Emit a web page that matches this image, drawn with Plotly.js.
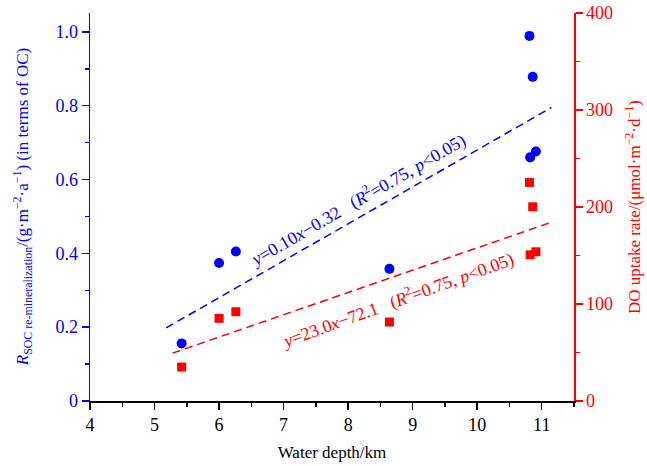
<!DOCTYPE html>
<html>
<head>
<meta charset="utf-8">
<script src="https://cdn.plot.ly/plotly-3.0.1.min.js"></script>
<style>html,body{margin:0;padding:0;background:#fff;}</style>
</head>
<body>
<div id="chart" style="width:647px;height:466px;"></div>
<script>
// Data
const depthKm = [5.42, 6.00, 6.26, 8.64, 10.81, 10.86, 10.82, 10.91];
const socRemin = [0.156, 0.374, 0.405, 0.358, 0.989, 0.878, 0.660, 0.676];
const doUptake = [35.0, 85.2, 92.0, 81.4, 225.3, 200.2, 150.7, 153.8];

const socFitX = [5.18, 11.15];
const socSlope = 0.10, socIntercept = -0.32;
const doFitX = [5.28, 11.15];
const doSlope = 23.0, doIntercept = -72.1;

const xTicks = [4, 5, 6, 7, 8, 9, 10, 11];
const leftTicks = [0, 0.2, 0.4, 0.6, 0.8, 1.0];
const leftTickText = ['0', '0.2', '0.4', '0.6', '0.8', '1.0'];
const rightTicks = [0, 100, 200, 300, 400];

const BLUE = '#0000FF', RED = '#FF0000';
const FONT = 'Liberation Serif, Times New Roman, serif';

const traces = [
  {x: socFitX, y: socFitX.map(v => socSlope * v + socIntercept), mode: 'lines',
   line: {color: BLUE, width: 1.5, dash: '8px,5px'}, xaxis: 'x', yaxis: 'y', hoverinfo: 'skip'},
  {x: doFitX, y: doFitX.map(v => doSlope * v + doIntercept), mode: 'lines',
   line: {color: RED, width: 1.5, dash: '8px,5px'}, xaxis: 'x', yaxis: 'y2', hoverinfo: 'skip'},
  {x: depthKm, y: socRemin, mode: 'markers', marker: {symbol: 'circle', size: 10, color: BLUE},
   xaxis: 'x', yaxis: 'y'},
  {x: depthKm, y: doUptake, mode: 'markers', marker: {symbol: 'square', size: 9, color: RED},
   xaxis: 'x', yaxis: 'y2'}
];

const layout = {
  width: 647, height: 466,
  margin: {l: 90, r: 73, t: 13, b: 65},
  paper_bgcolor: '#fff', plot_bgcolor: '#fff',
  showlegend: false,
  font: {family: FONT, size: 18, color: '#000'},
  xaxis: {
    range: [4, 11.5], tickmode: 'array', tickvals: xTicks,
    showgrid: false, zeroline: false, showline: true, linecolor: '#000', linewidth: 1.5,
    ticks: 'outside', ticklen: 7, tickwidth: 1.5, tickcolor: '#000',
    minor: {dtick: 0.5, tick0: 0, ticks: 'outside', ticklen: 4, tickwidth: 1.5, tickcolor: '#000', showgrid: false},
    tickfont: {family: FONT, size: 18, color: '#000'},
    title: {text: 'Water depth/km', font: {family: FONT, size: 17, color: '#000'}, standoff: 12}
  },
  xaxis2: {
    overlaying: 'x', side: 'top', anchor: 'y',
    range: [4, 11.5], tickmode: 'array', tickvals: xTicks, showticklabels: false,
    showgrid: false, zeroline: false, showline: true, linecolor: '#000', linewidth: 1.5,
    ticks: 'inside', ticklen: 7, tickwidth: 1.5, tickcolor: '#000',
    minor: {dtick: 0.5, tick0: 0, ticks: 'inside', ticklen: 4, tickwidth: 1.5, tickcolor: '#000', showgrid: false}
  },
  yaxis: {
    range: [0, 1.051], tickmode: 'array', tickvals: leftTicks, ticktext: leftTickText,
    showgrid: false, zeroline: false, showline: true, linecolor: BLUE, linewidth: 1.5,
    ticks: 'outside', ticklen: 7, tickwidth: 1.5, tickcolor: BLUE,
    minor: {tickvals: [0.1, 0.3, 0.5, 0.7, 0.9], ticks: 'outside', ticklen: 4, tickwidth: 1.5, tickcolor: BLUE, showgrid: false},
    tickfont: {family: FONT, size: 18, color: BLUE}
  },
  yaxis2: {
    overlaying: 'y', side: 'right', anchor: 'x',
    range: [0, 400], tickmode: 'array', tickvals: rightTicks,
    showgrid: false, zeroline: false, showline: true, linecolor: RED, linewidth: 1.5,
    ticks: 'outside', ticklen: 7, tickwidth: 1.5, tickcolor: RED,
    minor: {tickvals: [50, 150, 250, 350], ticks: 'outside', ticklen: 4, tickwidth: 1.5, tickcolor: RED, showgrid: false},
    tickfont: {family: FONT, size: 18, color: RED}
  },
  annotations: [
    {xref: 'paper', yref: 'paper', x: -0.14, y: 0.5, xanchor: 'center', yanchor: 'middle', textangle: -90,
     showarrow: false, font: {family: FONT, size: 17, color: BLUE},
     text: '<i>R</i><sub>SOC re-mineralization</sub>/(g·m<sup>−2</sup>·a<sup>−1</sup>) (in terms of OC)'},
    {xref: 'paper', yref: 'paper', x: 1.122, y: 0.5, xanchor: 'center', yanchor: 'middle', textangle: -90,
     showarrow: false, font: {family: FONT, size: 17, color: RED},
     text: 'DO uptake rate/(μmol·m<sup>−2</sup>·d<sup>−1</sup>)'},
    {xref: 'x', yref: 'y', x: 8.14, y: 0.544, textangle: -30, showarrow: false,
     font: {family: FONT, size: 18, color: BLUE},
     text: '<i>y</i>=0.10<i>x</i>−0.32&nbsp;&nbsp;&nbsp;(<i>R</i><sup>2</sup>=0.75, <i>p</i>&lt;0.05)'},
    {xref: 'x', yref: 'y2', x: 8.76, y: 104, textangle: -20, showarrow: false,
     font: {family: FONT, size: 18, color: RED},
     text: '<i>y</i>=23.0<i>x</i>−72.1&nbsp;&nbsp;&nbsp;(<i>R</i><sup>2</sup>=0.75, <i>p</i>&lt;0.05)'}
  ]
};

Plotly.newPlot('chart', traces, layout, {staticPlot: true, displayModeBar: false});
</script>
</body>
</html>
